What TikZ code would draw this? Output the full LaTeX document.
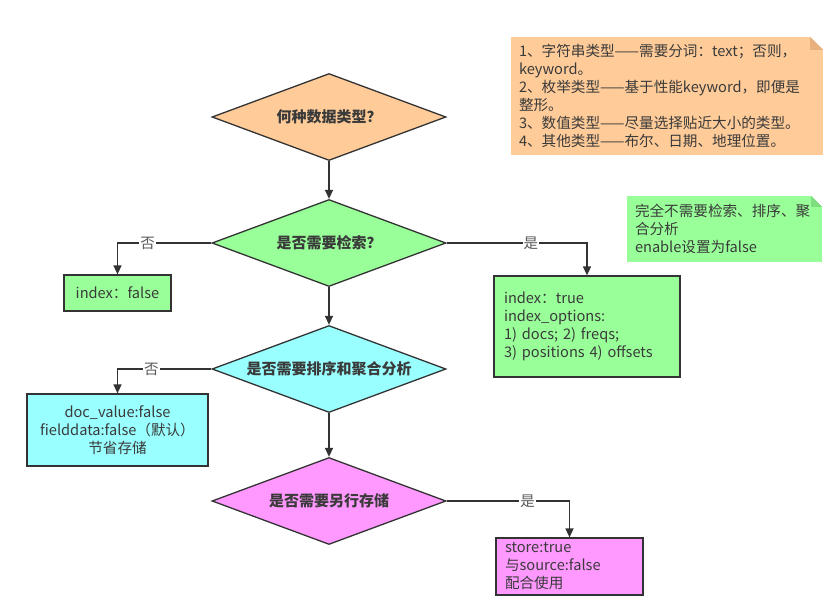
\documentclass[tikz,border=0pt]{standalone}
\usepackage{fontspec}
\setmainfont{Noto Sans CJK SC}
\usepackage{xcolor}
\usepackage{tikz}
\usetikzlibrary{positioning, shapes.geometric, arrows.meta, calc}

\definecolor{lineGray}{HTML}{333333}
\definecolor{textGray}{HTML}{3A3A3A}
\definecolor{orangeFill}{HTML}{FFCC99}
\definecolor{orangeFold}{HTML}{E8B07E}
\definecolor{greenFill}{HTML}{99FF99}
\definecolor{greenFold}{HTML}{7FDD7F}
\definecolor{cyanFill}{HTML}{99FFFF}
\definecolor{pinkFill}{HTML}{FF99FF}

\begin{document}
\begin{tikzpicture}[x=1pt, y=-1pt,
    decision/.style={diamond, draw=lineGray, line width=1.3pt, aspect=2.7,
      minimum width=234pt, minimum height=87pt, inner sep=0pt, text=textGray,
      font=\fontsize{15}{17}\selectfont\bfseries},
    result/.style={rectangle, draw=lineGray, line width=1.2pt, inner sep=0pt,
      text=textGray, font=\fontsize{14.6}{18}\selectfont},
    memo/.style={rectangle, inner sep=0pt, text=textGray,
      font=\fontsize{14.6}{18}\selectfont},
    flow/.style={draw=lineGray, line width=1.4pt, -{Triangle[length=9pt,width=8pt]}},
    answer/.style={fill=white, inner sep=1pt, text=black!65,
      font=\fontsize{14.5}{16}\selectfont}]
    \useasboundingbox (0,0) rectangle (835,600);

    % decisions down the middle
    \node[decision, fill=orangeFill] (kind) at (329,117) {何种数据类型？};
    \node[decision, fill=greenFill] (search) at (329,243) {是否需要检索？};
    \node[decision, fill=cyanFill] (sort) at (329,369) {是否需要排序和聚合分析};
    \node[decision, fill=pinkFill] (keep) at (329,501) {是否需要另行存储};

    % results
    \node[result, fill=greenFill, minimum width=107pt, minimum height=36pt] (idxNo) at (117.5,293) {index：false};
    \node[result, fill=greenFill, minimum width=186pt, minimum height=101pt,
      text width=166pt, align=left] (idxYes) at (587,326.5)
      {index：true\\index\_options:\\1) docs; 2) freqs;\\3) positions 4) offsets};
    \node[result, fill=cyanFill, minimum width=181pt, minimum height=72pt,
      align=center] (docVal) at (117.5,430)
      {doc\_value:false\\fielddata:false（默认）\\节省存储};
    \node[result, fill=pinkFill, minimum width=147pt, minimum height=57pt,
      text width=129pt, align=left] (store) at (569.5,566.5)
      {store:true\\与source:false\\配合使用};

    % notes
    \node[memo, fill=orangeFill, minimum width=312pt, minimum height=118pt,
      text width=296pt, align=left] (noteKind) at (667,96)
      {1、字符串类型——需要分词：text；否则，\\keyword。\\2、枚举类型——基于性能keyword，即便是\\整形。\\3、数值类型——尽量选择贴近大小的类型。\\4、其他类型——布尔、日期、地理位置。};
    \node[memo, fill=greenFill, minimum width=195pt, minimum height=66pt,
      text width=179pt, align=left] (noteOff) at (724.5,229)
      {完全不需要检索、排序、聚\\合分析\\enable设置为false};
    \fill[white] ($(noteKind.north east)+(-13,0)$) -- (noteKind.north east) -- ++(0,13) -- cycle;
    \fill[orangeFold] ($(noteKind.north east)+(-13,0)$) -- ++(0,13) -- ++(13,0) -- cycle;
    \fill[white] ($(noteOff.north east)+(-11,0)$) -- (noteOff.north east) -- ++(0,11) -- cycle;
    \fill[greenFold] ($(noteOff.north east)+(-11,0)$) -- ++(0,11) -- ++(11,0) -- cycle;

    % connectors
    \draw[flow] (kind) -- (search);
    \draw[flow] (search) -- (sort);
    \draw[flow] (sort) -- (keep);
    \draw[flow] (search.west) -| node[answer, pos=0.34] {否} (idxNo.north);
    \draw[flow] (search.east) -| node[answer, pos=0.3] {是} (idxYes.north);
    \draw[flow] (sort.west) -| node[answer, pos=0.32] {否} (docVal.north);
    \draw[flow] (keep.east) -| node[answer, pos=0.33] {是} (store.north);
  \end{tikzpicture}
\end{document}
